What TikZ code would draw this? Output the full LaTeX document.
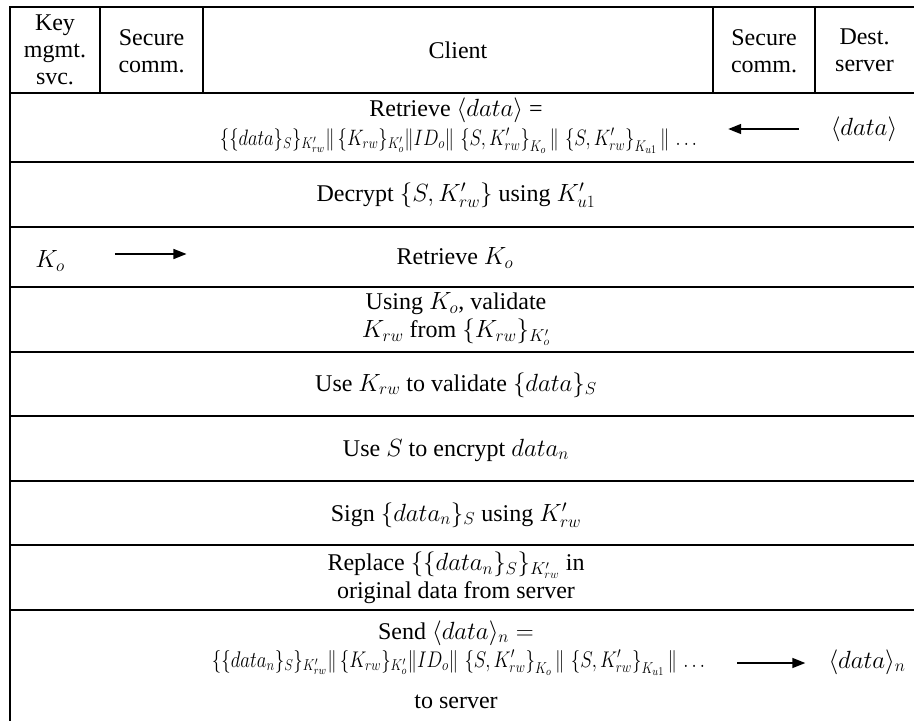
\documentclass[tikz,border=0pt]{standalone}
\usepackage{fontspec}
\setmainfont{Liberation Serif}
\usetikzlibrary{arrows.meta,calc}

\begin{document}
\begin{tikzpicture}[x=1pt,y=-1pt,
  every node/.style={inner sep=0pt,font=\fontsize{24}{27}\selectfont},
  rule/.style={line width=1.8pt},
  cell/.style={align=center},
  twoline/.style={align=center,font=\fontsize{24}{28}\selectfont},
  arr/.style={line width=1.5pt,-{Triangle[length=13pt,width=10pt]}},
  fml/.style={font=\fontsize{18}{22}\selectfont}
]
\useasboundingbox (0,0) rectangle (914,721);

% table rules
\draw[rule] (10,721) -- (10,7) -- (914,7);
\foreach \y in {93,162,227,287,352,416,481,545,610}
  \draw[rule] (10,\y) -- (914,\y);
\foreach \x in {100,203,713,815}
  \draw[rule] (\x,7) -- (\x,93);

% column headings
\node[cell] (hkey) at (55,50)    {Key\\mgmt.\\svc.};
\node[cell] (hsc1) at (151.5,51) {Secure\\comm.};
\node       (hcl)  at (458,50)   {Client};
\node[cell] (hsc2) at (764,51)   {Secure\\comm.};
\node[cell] (hdst) at (864.5,50) {Dest.\\server};

% retrieve the data
\node (ret) at (456,110) {Retrieve $\langle data\rangle$ =};
\node[fml] (f1) at (458.5,141) {\resizebox{477pt}{!}{\scalebox{1}[1.2]{$\{\{data\}_S\}_{K'_{rw}}\|\,\{K_{rw}\}_{K'_o}\|ID_o\|\,\left\{S,K'_{rw}\right\}_{K_o}\big\|\,\left\{S,K'_{rw}\right\}_{K_{u1}}\big\|\,\ldots$}}};
\node (dr) at (864,129) {$\langle data\rangle$};
\draw[arr,shorten <=32pt,shorten >=31pt] (dr.west) -- (dr.west -| f1.east);

% client steps
\node (dec) at (456,195) {Decrypt $\left\{S,K'_{rw}\right\}$ using $K'_{u1}$};

\node (ko) at (50,261) {$K_o$};
\node (rk) at (455,258) {Retrieve $K_o$};
\draw[arr,shorten <=50pt,shorten >=210pt] ($(ko.east)+(0,-7)$) -- ($(ko.east -| rk.west)+(0,-7)$);

\node[twoline] (val) at (456,319) {Using $K_o$, validate\\$K_{rw}$ from $\{K_{rw}\}_{K'_o}$};
\node (use) at (456,385) {Use $K_{rw}$ to validate $\{data\}_S$};
\node (enc) at (456,450) {Use $S$ to encrypt $data_n$};
\node (sig) at (456,515) {Sign $\{data_n\}_S$ using $K'_{rw}$};
\node[twoline] (rep) at (456,578) {Replace $\{\{data_n\}_S\}_{K'_{rw}}$ in\\original data from server};

% send the data back
\node (snd) at (456,633) {Send $\langle data\rangle_n =$};
\node[fml] (f9) at (458.5,663) {\resizebox{493pt}{!}{\scalebox{1}[1.2]{$\{\{data_n\}_S\}_{K'_{rw}}\|\,\{K_{rw}\}_{K'_o}\|ID_o\|\,\left\{S,K'_{rw}\right\}_{K_o}\big\|\,\left\{S,K'_{rw}\right\}_{K_{u1}}\big\|\,\ldots$}}};
\node (to) at (456,702) {to server};
\node (dn) at (867,662) {$\langle data\rangle_n$};
\draw[arr,shorten <=32pt,shorten >=23pt] (f9.east) -- (f9.east -| dn.west);
\end{tikzpicture}
\end{document}
